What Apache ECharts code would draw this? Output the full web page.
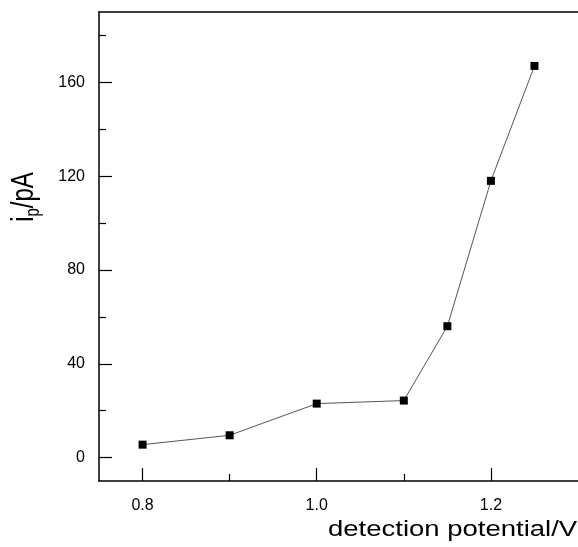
<!DOCTYPE html>
<html>
<head>
<meta charset="utf-8">
<script src="https://cdn.jsdelivr.net/npm/echarts@6/dist/echarts.min.js"></script>
<style>
  html, body { margin: 0; padding: 0; background: #fff; }
  #chart { width: 578px; height: 547px; }
</style>
</head>
<body>
<div id="chart"></div>
<script>
// detection potential (V) vs peak current (pA)
var potential = [0.8, 0.9, 1.0, 1.1, 1.15, 1.2, 1.25];
var current = [5.5, 9.5, 23, 24.3, 56, 118, 167];

var xMajor = [0.8, 1.0, 1.2];
var xMinor = [0.9, 1.1];
var yMajor = [0, 40, 80, 120, 160];
var yMinor = [20, 60, 100, 140, 180];

var font = 'Liberation Sans, Arial, sans-serif';

var chart = echarts.init(document.getElementById('chart'));

var seriesData = [];
for (var i = 0; i < potential.length; i++) {
  seriesData.push([potential[i], current[i]]);
}

chart.setOption({
  animation: false,
  grid: { left: 99, top: 12, right: -2, bottom: 66 },
  xAxis: [
    {
      type: 'value', position: 'bottom', min: 0.75, max: 1.3,
      axisLine: { onZero: false, lineStyle: { color: '#000', width: 1.5 } },
      axisTick: { inside: true, length: 13, customValues: xMajor, lineStyle: { color: '#000', width: 1.2 } },
      axisLabel: {
        customValues: xMajor, margin: 17, color: '#000', fontSize: 16, fontFamily: font,
        formatter: function (v) { return v.toFixed(1); }
      },
      splitLine: { show: false }
    },
    {
      type: 'value', position: 'bottom', min: 0.75, max: 1.3,
      axisLine: { show: false, onZero: false },
      axisTick: { inside: true, length: 7, customValues: xMinor, lineStyle: { color: '#000', width: 1.2 } },
      axisLabel: { show: false },
      splitLine: { show: false }
    },
    {
      type: 'value', position: 'top', min: 0.75, max: 1.3,
      axisLine: { onZero: false, lineStyle: { color: '#000', width: 1.5 } },
      axisTick: { show: false },
      axisLabel: { show: false },
      splitLine: { show: false }
    }
  ],
  yAxis: [
    {
      type: 'value', position: 'left', min: -10, max: 190,
      axisLine: { onZero: false, lineStyle: { color: '#000', width: 1.5 } },
      axisTick: { inside: true, length: 13, customValues: yMajor, lineStyle: { color: '#000', width: 1.2 } },
      axisLabel: { customValues: yMajor, margin: 14, color: '#000', fontSize: 16, fontFamily: font },
      splitLine: { show: false }
    },
    {
      type: 'value', position: 'left', min: -10, max: 190,
      axisLine: { show: false, onZero: false },
      axisTick: { inside: true, length: 7, customValues: yMinor, lineStyle: { color: '#000', width: 1.2 } },
      axisLabel: { show: false },
      splitLine: { show: false }
    }
  ],
  graphic: [
    {
      type: 'text', x: 328, y: 519, scaleX: 1.25,
      style: { text: 'detection potential/V', fontSize: 22, fontFamily: font, fill: '#000', align: 'left', verticalAlign: 'top' }
    },
    {
      type: 'text', x: 24, y: 197, rotation: Math.PI / 2, scaleY: 1.33,
      style: {
        text: '{i|i}{s|p}{i|/pA}', align: 'center', verticalAlign: 'middle',
        rich: {
          i: { fontSize: 24, fontFamily: font, fill: '#000' },
          s: { fontSize: 15, fontFamily: font, fill: '#000', padding: [14, 0, 0, 0] }
        }
      }
    }
  ],
  series: [
    {
      type: 'line',
      xAxisIndex: 0, yAxisIndex: 0,
      data: seriesData,
      symbol: 'rect', symbolSize: 8,
      itemStyle: { color: '#000' },
      lineStyle: { color: '#555', width: 1 }
    }
  ]
});
</script>
</body>
</html>
